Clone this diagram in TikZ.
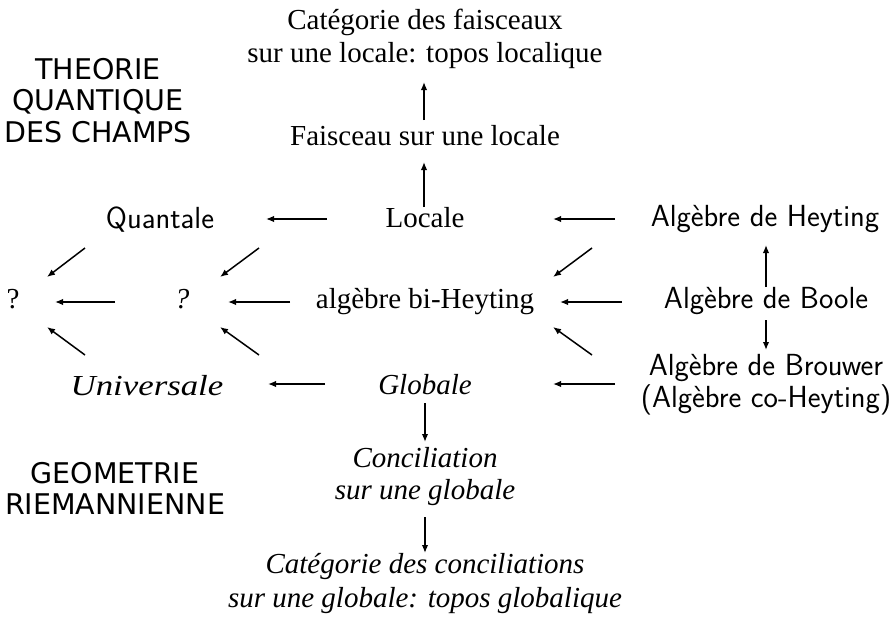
\documentclass[tikz,border=0pt]{standalone}
\usepackage{fontspec}
\usepackage{graphicx}
\setmainfont{Liberation Serif}
\newfontfamily\hdfont{DejaVu Sans}
\usetikzlibrary{arrows.meta}
\begin{document}
\begin{tikzpicture}[x=1pt,y=-1pt,
  every node/.style={inner sep=0pt,anchor=base,align=center},
  rm/.style={font=\fontsize{29}{33}\selectfont},
  itx/.style={font=\fontsize{29}{32}\selectfont\itshape},
  sfx/.style={font=\fontsize{30.5}{32}\selectfont\sffamily},
  hd/.style={font=\fontsize{28.5}{31.5}\selectfont\hdfont},
  arr/.style={line width=1.5pt,-{Latex[length=8pt,width=6.5pt]}}]
\useasboundingbox (0,0) rectangle (891,618);
% nodes (base anchor = baseline of the last line)
\node[rm]  (catF)  at (425,63)  {Catégorie des faisceaux\\sur une locale: topos localique};
\node[rm]  (fais)  at (425,145) {Faisceau sur une locale};
\node[rm]  (locale) at (425,227) {Locale};
\node[sfx] (quant) at (160,228) {Quantale};
\node[sfx] (heyt)  at (765,226) {Algèbre de Heyting};
\node[hd]  (theo)  at (98,142)  {THEORIE\\QUANTIQUE\\DES CHAMPS};
\node[rm]  (qL)    at (13,308)  {?};
\node[itx] (qM)    at (182,308) {?};
\node[rm]  (biH)   at (425,308) {algèbre bi-Heyting};
\node[sfx] (boole) at (766,308) {Algèbre de Boole};
\node[itx] (univ)  at (147,395) {\scalebox{1.2}[1]{Universale}};
\node[itx] (glob)  at (425,394) {Globale};
\node[sfx] (brou)  at (766,407) {Algèbre de Brouwer\\(Algèbre co-Heyting)};
\node[itx] (conc)  at (425,499) {Conciliation\\sur une globale};
\node[hd,font=\fontsize{28.5}{31}\selectfont\hdfont] (geo) at (115,514) {GEOMETRIE\\RIEMANNIENNE};
\node[itx,font=\fontsize{29}{34}\selectfont\itshape] (catG) at (425,607) {Catégorie des conciliations\\sur une globale: topos globalique};
% arrow end points
\coordinate (a1s) at (424,120); \coordinate (a1e) at (424,82);
\coordinate (a2s) at (424,207); \coordinate (a2e) at (424,162);
\coordinate (a3s) at (327,219); \coordinate (a3e) at (266,219);
\coordinate (a4s) at (615,219); \coordinate (a4e) at (553,219);
\coordinate (a5s) at (290,302); \coordinate (a5e) at (228,302);
\coordinate (a6s) at (115,302); \coordinate (a6e) at (55,302);
\coordinate (a7s) at (622,302); \coordinate (a7e) at (560,302);
\coordinate (a8s) at (325,384); \coordinate (a8e) at (268,384);
\coordinate (a9s) at (615,384); \coordinate (a9e) at (553,384);
\coordinate (b1s) at (766,287); \coordinate (b1e) at (766,245);
\coordinate (b2s) at (766,320); \coordinate (b2e) at (766,350);
\coordinate (c1s) at (425,403); \coordinate (c1e) at (425,442);
\coordinate (c2s) at (425,517); \coordinate (c2e) at (425,553);
\coordinate (d1s) at (85,248);  \coordinate (d1e) at (47,277);
\coordinate (d2s) at (85,355);  \coordinate (d2e) at (47,327);
\coordinate (d3s) at (259,248); \coordinate (d3e) at (220,277);
\coordinate (d4s) at (259,355); \coordinate (d4e) at (220,327);
\coordinate (d5s) at (592,248); \coordinate (d5e) at (553,277);
\coordinate (d6s) at (592,355); \coordinate (d6e) at (553,327);
\foreach \a in {a1,a2,a3,a4,a5,a6,a7,a8,a9,b1,b2,c1,c2,d1,d2,d3,d4,d5,d6}
  \draw[arr] (\a s) -- (\a e);
\end{tikzpicture}
\end{document}
